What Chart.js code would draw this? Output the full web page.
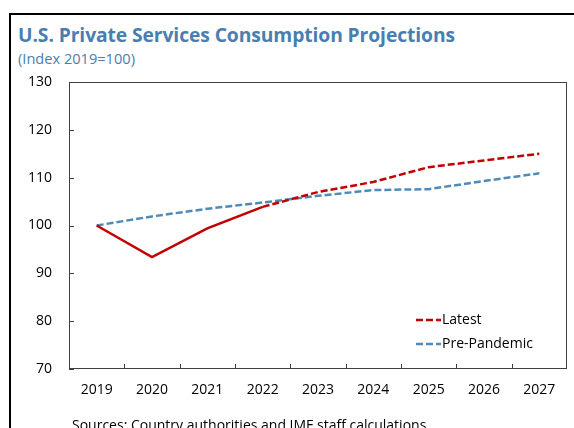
<!DOCTYPE html>
<html>
<head>
<meta charset="utf-8">
<script src="https://cdn.jsdelivr.net/npm/chart.js@4/dist/chart.umd.min.js"></script>
<style>
  html, body { margin: 0; padding: 0; background: #fff; }
  #wrap { position: relative; width: 574px; height: 428px; overflow: hidden; font-family: "Open Sans", "Noto Sans", sans-serif; }
  #frame { position: absolute; left: 9px; top: 13px; width: 580px; height: 440px; border-top: 2px solid #000; border-left: 2px solid #000; box-sizing: border-box; }
  #title { position: absolute; left: 18px; top: 21px; font-size: 19.3px; font-weight: 700; color: #4A7EB0; white-space: nowrap; letter-spacing: -0.1px; }
  #subtitle { position: absolute; left: 18px; top: 48px; font-size: 14.6px; color: #4A7EB0; white-space: nowrap; }
  #source { position: absolute; left: 72px; top: 415px; font-size: 14px; color: #000; white-space: nowrap; }
  canvas { position: absolute; left: 0; top: 0; }
</style>
</head>
<body>
<div id="wrap">
  <div id="frame"></div>
  <div id="title">U.S. Private Services Consumption Projections</div>
  <div id="subtitle">(Index 2019=100)</div>
  <canvas id="c" width="574" height="428"></canvas>
  <div id="source">Sources: Country authorities and IMF staff calculations.</div>
</div>
<script>
// Index values, 2019 = 100
const years = ["2019", "2020", "2021", "2022", "2023", "2024", "2025", "2026", "2027"];
const latest = [100, 93.4, 99.4, 103.9, 107.0, 109.1, 112.2, 113.6, 115.0];
const prePandemic = [100, 101.9, 103.5, 104.8, 106.2, 107.4, 107.6, 109.3, 110.9];
const seriesNames = ["Latest", "Pre-Pandemic"];
const yTicks = [70, 80, 90, 100, 110, 120, 130];

const RED = "#C00000";
const BLUE = "#4F8AB8";
const DASH = [7, 3];
const FONT = "'Open Sans', 'Noto Sans', sans-serif";
// index of the last actual data point for the "Latest" series
const lastActual = 3;

// Inward tick marks, plot frame and in-plot legend
const decorations = {
  id: "decorations",
  afterDraw(chart) {
    const { ctx, chartArea: a, scales } = chart;
    ctx.save();
    ctx.strokeStyle = "#404040";
    ctx.lineWidth = 1;
    ctx.strokeRect(Math.round(a.left) + 0.5, Math.round(a.top) + 0.5,
                   Math.round(a.right - a.left) - 1, Math.round(a.bottom - a.top) - 1);
    ctx.beginPath();
    yTicks.forEach(v => {
      const y = Math.round(scales.y.getPixelForValue(v)) + 0.5;
      ctx.moveTo(a.left, y); ctx.lineTo(a.left + 5, y);
    });
    for (let i = 1; i < years.length; i++) {
      const x = Math.round((scales.x.getPixelForValue(i - 1) + scales.x.getPixelForValue(i)) / 2) + 0.5;
      ctx.moveTo(x, a.bottom); ctx.lineTo(x, a.bottom - 5);
    }
    ctx.stroke();

    // legend
    const colors = [RED, BLUE];
    const lx = a.right - 151, ly = a.bottom - 49;
    ctx.font = "14px " + FONT;
    ctx.textBaseline = "middle";
    ctx.fillStyle = "#000";
    seriesNames.forEach((name, i) => {
      const y = ly + i * 24;
      ctx.beginPath();
      ctx.setLineDash(DASH);
      ctx.lineWidth = 2.5;
      ctx.strokeStyle = colors[i];
      ctx.moveTo(lx, y); ctx.lineTo(lx + 25, y);
      ctx.stroke();
      ctx.setLineDash([]);
      ctx.fillText(name, lx + 26, y);
    });
    ctx.restore();
  }
};

new Chart(document.getElementById("c"), {
  type: "line",
  data: {
    labels: years,
    datasets: [
      {
        label: seriesNames[0],
        data: latest,
        borderColor: RED,
        borderWidth: 2.5,
        pointRadius: 0,
        tension: 0,
        segment: {
          borderDash: c => (c.p0DataIndex >= lastActual ? DASH : undefined)
        }
      },
      {
        label: seriesNames[1],
        data: prePandemic,
        borderColor: BLUE,
        borderWidth: 2.5,
        borderDash: DASH,
        pointRadius: 0,
        tension: 0
      }
    ]
  },
  options: {
    responsive: false,
    animation: false,
    devicePixelRatio: 1,
    layout: { padding: { left: 0, top: 82, right: 7, bottom: 29 } },
    plugins: {
      legend: { display: false },
      title: { display: false },
      tooltip: { enabled: false }
    },
    scales: {
      x: {
        offset: true,
        grid: { display: false, drawTicks: false },
        border: { display: false },
        ticks: { color: "#000", font: { family: FONT, size: 14 }, padding: 13, maxRotation: 0 },
        afterFit: s => { s.height = 30; }
      },
      y: {
        min: 70,
        max: 130,
        afterBuildTicks: s => { s.ticks = yTicks.map(v => ({ value: v })); },
        grid: { display: false, drawTicks: false },
        border: { display: false },
        ticks: { color: "#000", font: { family: FONT, size: 14 }, padding: 17 },
        afterFit: s => { s.width = 69; }
      }
    }
  },
  plugins: [decorations]
});
</script>
</body>
</html>
